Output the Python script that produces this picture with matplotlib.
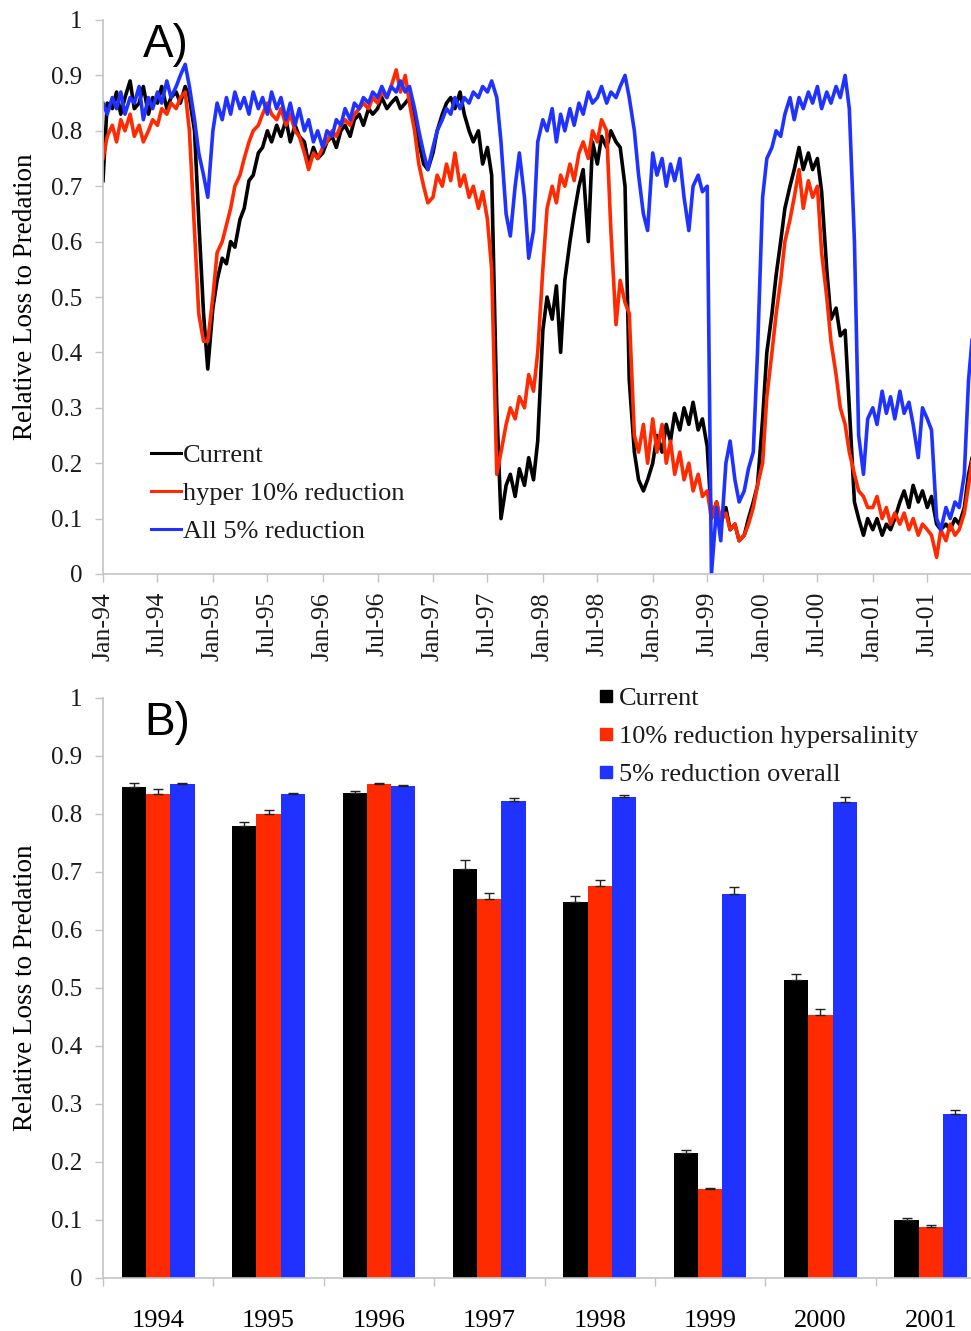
import matplotlib
matplotlib.use("Agg")
import matplotlib.pyplot as plt
import matplotlib.dates as mdates
from matplotlib.lines import Line2D
import numpy as np
import pandas as pd

# ---------------- Panel A: semi-monthly relative loss to predation ----------------
start_date = "1994-01-01"
n_points = 191

current_series = (
    [0.71, 0.85, 0.84, 0.87, 0.83, 0.86, 0.89, 0.84, 0.85, 0.88, 0.83, 0.86,
     0.85, 0.88, 0.84, 0.86, 0.87, 0.85, 0.88, 0.86, 0.80, 0.64, 0.47, 0.37] +
    [0.48, 0.53, 0.57, 0.56, 0.60, 0.59, 0.64, 0.66, 0.71, 0.72, 0.76, 0.77,
     0.80, 0.78, 0.81, 0.79, 0.82, 0.78, 0.81, 0.79, 0.78, 0.74, 0.77, 0.75] +
    [0.76, 0.78, 0.79, 0.77, 0.80, 0.81, 0.79, 0.82, 0.83, 0.81, 0.84, 0.83,
     0.84, 0.86, 0.84, 0.85, 0.86, 0.84, 0.85, 0.86, 0.83, 0.78, 0.74, 0.73] +
    [0.76, 0.80, 0.83, 0.85, 0.86, 0.84, 0.87, 0.83, 0.80, 0.78, 0.80, 0.74,
     0.77, 0.72, 0.30, 0.10, 0.16, 0.18, 0.14, 0.19, 0.16, 0.21, 0.17, 0.24] +
    [0.44, 0.50, 0.46, 0.52, 0.40, 0.53, 0.60, 0.65, 0.70, 0.73, 0.60, 0.78,
     0.74, 0.79, 0.77, 0.80, 0.78, 0.77, 0.70, 0.35, 0.22, 0.17, 0.15, 0.17] +
    [0.20, 0.25, 0.22, 0.27, 0.24, 0.29, 0.26, 0.30, 0.27, 0.31, 0.26, 0.28,
     0.23, 0.10, 0.13, 0.09, 0.12, 0.08, 0.09, 0.06, 0.07, 0.10, 0.13, 0.16] +
    [0.28, 0.40, 0.47, 0.54, 0.60, 0.66, 0.70, 0.73, 0.77, 0.73, 0.76, 0.73,
     0.75, 0.69, 0.55, 0.46, 0.48, 0.43, 0.44, 0.30, 0.13, 0.10, 0.07, 0.10] +
    [0.08, 0.10, 0.07, 0.09, 0.08, 0.10, 0.13, 0.15, 0.12, 0.16, 0.13, 0.15,
     0.12, 0.14, 0.09, 0.08, 0.09, 0.08, 0.10, 0.09, 0.12, 0.18, 0.22]
)

hyper10_series = (
    [0.75, 0.79, 0.81, 0.78, 0.82, 0.80, 0.83, 0.79, 0.81, 0.78, 0.80, 0.82,
     0.81, 0.84, 0.83, 0.85, 0.84, 0.86, 0.87, 0.80, 0.62, 0.47, 0.42, 0.42] +
    [0.50, 0.58, 0.60, 0.63, 0.66, 0.70, 0.72, 0.75, 0.78, 0.80, 0.81, 0.83,
     0.85, 0.83, 0.82, 0.84, 0.81, 0.83, 0.80, 0.79, 0.76, 0.73, 0.76, 0.75] +
    [0.77, 0.78, 0.80, 0.79, 0.81, 0.82, 0.81, 0.83, 0.84, 0.85, 0.84, 0.86,
     0.85, 0.87, 0.86, 0.88, 0.91, 0.87, 0.90, 0.85, 0.80, 0.74, 0.70, 0.67] +
    [0.68, 0.72, 0.70, 0.74, 0.71, 0.76, 0.70, 0.72, 0.68, 0.70, 0.66, 0.69,
     0.64, 0.55, 0.18, 0.22, 0.27, 0.30, 0.28, 0.32, 0.30, 0.36, 0.33, 0.40] +
    [0.55, 0.66, 0.70, 0.67, 0.72, 0.70, 0.74, 0.71, 0.76, 0.78, 0.75, 0.80,
     0.78, 0.82, 0.80, 0.62, 0.45, 0.53, 0.49, 0.47, 0.25, 0.22, 0.27, 0.20] +
    [0.28, 0.22, 0.27, 0.20, 0.24, 0.18, 0.22, 0.17, 0.20, 0.15, 0.18, 0.14,
     0.15, 0.10, 0.13, 0.10, 0.11, 0.08, 0.09, 0.06, 0.07, 0.09, 0.12, 0.16] +
    [0.20, 0.32, 0.40, 0.47, 0.53, 0.60, 0.64, 0.68, 0.73, 0.66, 0.71, 0.68,
     0.70, 0.58, 0.50, 0.42, 0.36, 0.30, 0.27, 0.22, 0.18, 0.15, 0.14, 0.12] +
    [0.12, 0.14, 0.10, 0.12, 0.09, 0.11, 0.09, 0.11, 0.08, 0.10, 0.07, 0.09,
     0.08, 0.07, 0.03, 0.08, 0.06, 0.09, 0.07, 0.08, 0.11, 0.16, 0.22]
)

all5_series = (
    [0.85, 0.83, 0.86, 0.84, 0.87, 0.83, 0.86, 0.85, 0.88, 0.82, 0.86, 0.84,
     0.87, 0.85, 0.89, 0.86, 0.88, 0.90, 0.92, 0.88, 0.82, 0.76, 0.72, 0.68] +
    [0.80, 0.85, 0.82, 0.86, 0.83, 0.87, 0.84, 0.86, 0.83, 0.87, 0.84, 0.86,
     0.83, 0.87, 0.84, 0.86, 0.82, 0.85, 0.81, 0.84, 0.80, 0.82, 0.78, 0.80] +
    [0.77, 0.80, 0.79, 0.82, 0.81, 0.84, 0.82, 0.85, 0.84, 0.86, 0.85, 0.87,
     0.86, 0.88, 0.86, 0.88, 0.87, 0.89, 0.87, 0.88, 0.84, 0.80, 0.76, 0.73] +
    [0.77, 0.80, 0.82, 0.84, 0.83, 0.86, 0.84, 0.86, 0.85, 0.87, 0.86, 0.88,
     0.87, 0.89, 0.86, 0.78, 0.65, 0.61, 0.70, 0.76, 0.68, 0.57, 0.62, 0.78] +
    [0.82, 0.80, 0.84, 0.78, 0.83, 0.80, 0.84, 0.81, 0.85, 0.83, 0.87, 0.85,
     0.86, 0.88, 0.85, 0.87, 0.86, 0.88, 0.90, 0.86, 0.80, 0.72, 0.65, 0.62] +
    [0.76, 0.72, 0.75, 0.70, 0.74, 0.71, 0.75, 0.68, 0.62, 0.70, 0.72, 0.69,
     0.70, 0.00, 0.12, 0.06, 0.20, 0.24, 0.17, 0.13, 0.15, 0.19, 0.22, 0.40] +
    [0.68, 0.75, 0.77, 0.80, 0.79, 0.83, 0.86, 0.82, 0.86, 0.84, 0.87, 0.85,
     0.88, 0.84, 0.87, 0.85, 0.88, 0.86, 0.90, 0.84, 0.60, 0.25, 0.18, 0.28] +
    [0.30, 0.27, 0.33, 0.29, 0.32, 0.28, 0.33, 0.29, 0.31, 0.27, 0.21, 0.30,
     0.28, 0.26, 0.10, 0.08, 0.12, 0.10, 0.13, 0.12, 0.18, 0.35, 0.45]
)

line_labels = ["Current", "hyper 10% reduction", "All 5% reduction"]

# ---------------- Panel B: annual means with standard errors ----------------
years = ["1994", "1995", "1996", "1997", "1998", "1999", "2000", "2001"]
current_mean = [0.847, 0.780, 0.837, 0.705, 0.649, 0.216, 0.513, 0.100]
current_err = [0.007, 0.006, 0.002, 0.015, 0.010, 0.004, 0.012, 0.004]
hyper_mean = [0.835, 0.800, 0.851, 0.653, 0.676, 0.153, 0.453, 0.088]
hyper_err = [0.008, 0.007, 0.002, 0.010, 0.010, 0.003, 0.010, 0.004]
overall_mean = [0.851, 0.834, 0.848, 0.823, 0.829, 0.662, 0.821, 0.283]
overall_err = [0.002, 0.002, 0.002, 0.004, 0.003, 0.013, 0.009, 0.007]
bar_labels = ["Current", "10% reduction hypersalinity", "5% reduction overall"]

y_ticks = [0, 0.1, 0.2, 0.3, 0.4, 0.5, 0.6, 0.7, 0.8, 0.9, 1]
y_tick_labels = ["0", "0.1", "0.2", "0.3", "0.4", "0.5", "0.6", "0.7", "0.8", "0.9", "1"]

# ---------------- styling ----------------
BLACK = "#000000"
RED = "#ff2a00"
BLUE = "#1f32ff"
SPINE = "#c4c4c4"
SERIF = ["Liberation Serif", "DejaVu Serif"]
SANS = ["Liberation Sans", "DejaVu Sans"]

plt.rcParams["font.family"] = SERIF
plt.rcParams["text.color"] = "#1a1a1a"

W, H = 971, 1331
fig = plt.figure(figsize=(W / 100, H / 100), dpi=100)

ax_left = 103 / W
ax_width = 883 / W


def style_axes(ax):
    for side in ("top", "right"):
        ax.spines[side].set_visible(False)
    for side in ("left", "bottom"):
        ax.spines[side].set_color(SPINE)
        ax.spines[side].set_linewidth(1.2)
    ax.tick_params(axis="both", colors=SPINE, labelcolor="#1a1a1a",
                   labelsize=18, length=6, width=1.0)
    ax.set_ylim(0, 1)
    ax.set_yticks(y_ticks)
    ax.set_yticklabels(y_tick_labels)
    ax.tick_params(axis="y", pad=9)
    ax.set_ylabel("Relative Loss to Predation", fontsize=19.5, labelpad=9)


# ---- Panel A ----
axA = fig.add_axes([ax_left, 1 - 574 / H, ax_width, 554 / H])
dates = pd.date_range(start_date, periods=n_points, freq="SMS")
axA.plot(dates, current_series, color=BLACK, lw=2.6)
axA.plot(dates, hyper10_series, color=RED, lw=2.6)
axA.plot(dates, all5_series, color=BLUE, lw=2.6)
style_axes(axA)
axA.set_xlim(pd.Timestamp("1994-01-01"), pd.Timestamp("2002-01-12"))
tick_dates = pd.date_range("1994-01-01", "2001-07-01", freq="6MS")
axA.set_xticks(tick_dates)
axA.xaxis.set_major_formatter(mdates.DateFormatter("%b-%y"))
axA.tick_params(axis="x", rotation=90, pad=7, length=6, labelsize=18.5)
axA.text(0.045, 0.995, "A)", transform=axA.transAxes, family=SANS,
         fontsize=33, va="top", ha="left", color="#000000")

handlesA = [Line2D([], [], color=c, lw=2.2) for c in (BLACK, RED, BLUE)]
axA.legend(handlesA, line_labels, loc="upper left",
           bbox_to_anchor=(151 / W, 1 - 444 / H), bbox_transform=fig.transFigure,
           frameon=False, fontsize=19, handlelength=1.15, handletextpad=0.05,
           labelspacing=0.55, borderpad=0, borderaxespad=0)

# ---- Panel B ----
axB = fig.add_axes([ax_left, 1 - 1278 / H, ax_width, 580 / H])
x = np.arange(len(years))
bw = 0.22
for off, vals, errs, col in ((-bw, current_mean, current_err, BLACK),
                             (0.0, hyper_mean, hyper_err, RED),
                             (bw, overall_mean, overall_err, BLUE)):
    axB.bar(x + off, vals, width=bw, color=col, edgecolor="none", zorder=2)
    axB.errorbar(x + off, vals, yerr=[np.zeros(len(errs)), errs], fmt="none",
                 ecolor="#222222", elinewidth=1.0, capsize=3.5, capthick=1.0, zorder=3)
style_axes(axB)
axB.set_xlim(-0.5, len(years) - 0.5)
axB.set_xticks(np.arange(-0.5, len(years), 1.0))
axB.set_xticklabels([])
axB.set_xticks(x, minor=True)
axB.set_xticklabels(years, minor=True)
axB.tick_params(axis="x", which="minor", length=0, pad=23, labelsize=19)
axB.tick_params(axis="x", which="major", length=6)
axB.text(0.047, 0.995, "B)", transform=axB.transAxes, family=SANS,
         fontsize=33, va="top", ha="left", color="#000000")

handlesB = [Line2D([], [], ls="none", marker="s", markersize=9,
                   markerfacecolor=c, markeredgecolor=c) for c in (BLACK, RED, BLUE)]
axB.legend(handlesB, bar_labels, loc="upper left",
           bbox_to_anchor=(598 / W, 1 - 687 / H), bbox_transform=fig.transFigure,
           frameon=False, fontsize=19, handlelength=0.6, handletextpad=0.2,
           labelspacing=0.55, borderpad=0, borderaxespad=0)

fig.savefig("out.png", dpi=100)
